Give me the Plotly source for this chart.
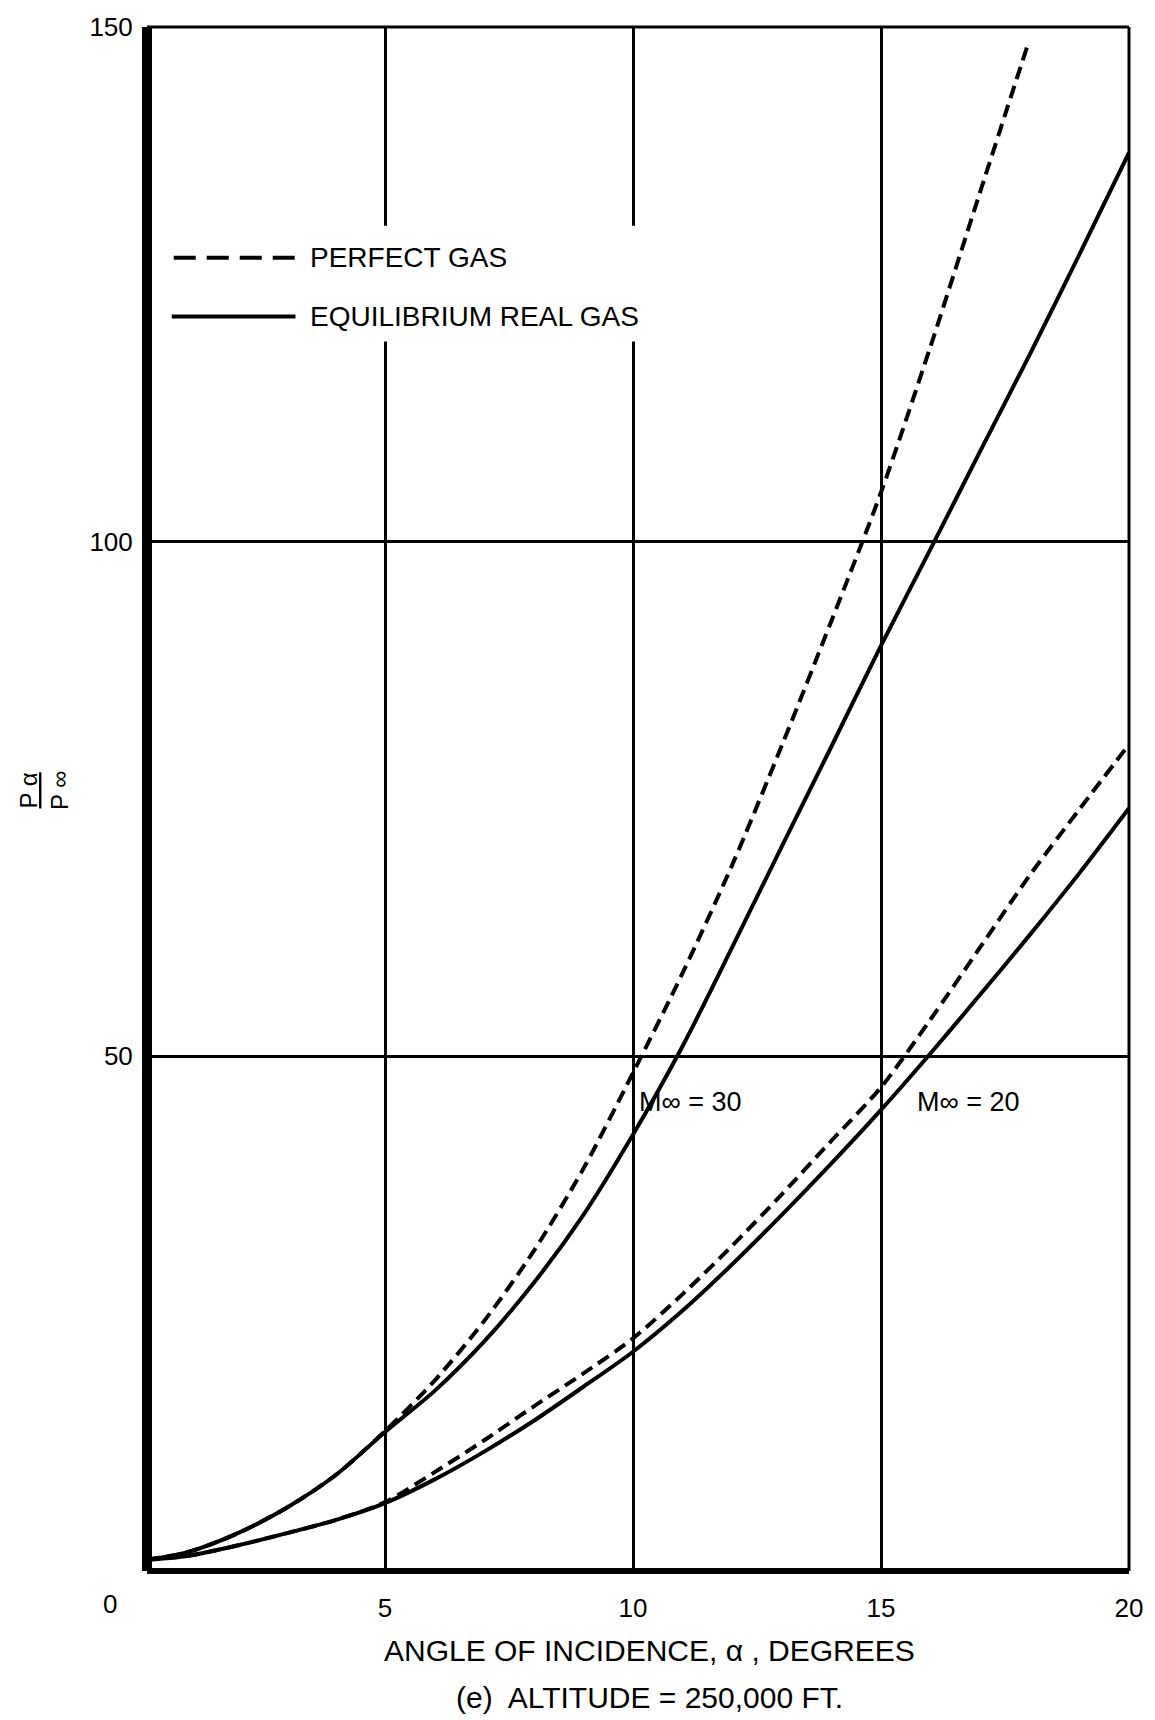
import plotly.graph_objects as go

# ---- data ----
alpha_m30_real = [0.2, 1, 2, 3, 4, 5, 6, 7, 8, 9, 10, 11, 12, 13, 14, 15, 16, 17, 18, 19, 20]
p_m30_real = [1.1, 1.8, 3.6, 6.1, 9.3, 13.5, 17.5, 22.3, 28.0, 34.6, 42.4, 51.0, 60.6, 70.4, 80.1, 89.9, 99.3, 108.8, 118.2, 127.9, 137.8]

alpha_m30_perfect = [0.2, 1, 2, 3, 4, 5, 6, 7, 8, 9, 10, 11, 12, 13, 14, 15, 16, 17, 17.94]
p_m30_perfect = [1.1, 1.8, 3.6, 6.1, 9.3, 13.6, 18.5, 24.3, 31.1, 39.1, 48.4, 58.1, 68.6, 80.2, 92.3, 104.8, 119.0, 134.0, 148.0]

alpha_m20_real = [0.2, 1, 2, 3, 4, 5, 6, 7, 8, 9, 10, 11, 12, 13, 14, 15, 16, 17, 18, 19, 20]
p_m20_real = [1.1, 1.45, 2.45, 3.65, 4.95, 6.6, 8.9, 11.6, 14.6, 17.9, 21.3, 25.3, 29.8, 34.6, 39.6, 44.8, 50.3, 56.0, 61.8, 67.8, 74.1]

alpha_m20_perfect = [0.2, 1, 2, 3, 4, 5, 6, 7, 8, 9, 10, 11, 12, 13, 14, 15, 16, 17, 18, 19, 20]
p_m20_perfect = [1.1, 1.45, 2.45, 3.65, 4.95, 6.7, 9.6, 12.7, 16.0, 19.2, 22.6, 26.9, 31.6, 36.6, 41.8, 47.0, 53.6, 60.6, 67.6, 74.0, 80.3]

x_ticks = [5, 10, 15, 20]
y_ticks = [50, 100, 150]
mach_labels = ["M\u221e = 30", "M\u221e = 20"]
mach_label_x = [10.08, 15.69]
mach_label_y = [45.6, 45.6]

FONT = "Liberation Sans, Arial, sans-serif"
W, H = 1155, 1720
L, R, T, B = 147, 16, 25, 149
pw, ph = W - L - R, H - T - B

def px2paper_x(px):
    return (px - L) / pw

def px2paper_y(py):
    return (H - B - py) / ph

fig = go.Figure()
dash_curve = "13px,7px"
for xs, ys, dash in [
    (alpha_m30_real, p_m30_real, "solid"),
    (alpha_m30_perfect, p_m30_perfect, dash_curve),
    (alpha_m20_real, p_m20_real, "solid"),
    (alpha_m20_perfect, p_m20_perfect, dash_curve),
]:
    fig.add_trace(go.Scatter(x=xs, y=ys, mode="lines",
                             line=dict(color="black", width=4, dash=dash, shape="spline", smoothing=0.8),
                             showlegend=False, hoverinfo="skip"))

for txt, xx, yy in zip(mach_labels, mach_label_x, mach_label_y):
    fig.add_annotation(x=xx, y=yy, xref="x", yref="y", text=txt, showarrow=False,
                       xanchor="left", yanchor="middle", font=dict(family=FONT, size=27, color="black"))

shapes = []
# white patch behind the legend text (gridlines are interrupted there)
shapes.append(dict(type="rect", xref="paper", yref="paper", layer="above",
                   x0=px2paper_x(302), x1=px2paper_x(690), y0=px2paper_y(340), y1=px2paper_y(224),
                   fillcolor="white", line=dict(width=0)))
# frame
shapes.append(dict(type="line", xref="paper", yref="paper", x0=0, x1=0, y0=0, y1=1, line=dict(color="black", width=10)))
shapes.append(dict(type="line", xref="paper", yref="paper", x0=0, x1=1, y0=0, y1=0, line=dict(color="black", width=6)))
shapes.append(dict(type="line", xref="paper", yref="paper", x0=0, x1=1, y0=1, y1=1, line=dict(color="black", width=3)))
shapes.append(dict(type="line", xref="paper", yref="paper", x0=1, x1=1, y0=0, y1=1, line=dict(color="black", width=3)))
# legend keys
shapes.append(dict(type="line", xref="paper", yref="paper", x0=px2paper_x(174), x1=px2paper_x(297),
                   y0=px2paper_y(256), y1=px2paper_y(256), line=dict(color="black", width=4, dash="22px,11px")))
shapes.append(dict(type="line", xref="paper", yref="paper", x0=px2paper_x(172), x1=px2paper_x(297),
                   y0=px2paper_y(315), y1=px2paper_y(315), line=dict(color="black", width=4)))

annotations = [
    dict(xref="paper", yref="paper", x=px2paper_x(310), y=px2paper_y(256), text="PERFECT GAS", showarrow=False,
         xanchor="left", yanchor="middle", font=dict(family=FONT, size=28, color="black")),
    dict(xref="paper", yref="paper", x=px2paper_x(310), y=px2paper_y(315), text="EQUILIBRIUM REAL GAS", showarrow=False,
         xanchor="left", yanchor="middle", font=dict(family=FONT, size=28, color="black")),
    dict(xref="paper", yref="paper", x=px2paper_x(110), y=px2paper_y(1604), text="0", showarrow=False,
         xanchor="center", yanchor="middle", font=dict(family=FONT, size=26, color="black")),
    dict(xref="paper", yref="paper", x=px2paper_x(655), y=px2paper_y(1651), text="ANGLE OF INCIDENCE, \u03b1 , DEGREES",
         showarrow=False, xanchor="center", yanchor="middle", font=dict(family=FONT, size=30, color="black")),
    dict(xref="paper", yref="paper", x=px2paper_x(655), y=px2paper_y(1698), text="(e)  ALTITUDE = 250,000 FT.",
         showarrow=False, xanchor="center", yanchor="middle", font=dict(family=FONT, size=30, color="black")),
    dict(xref="paper", yref="paper", x=px2paper_x(43), y=px2paper_y(790), text="<u>P \u03b1</u><br>P \u221e",
         showarrow=False, textangle=-90, xanchor="center", yanchor="middle",
         font=dict(family=FONT, size=24, color="black")),
]
for a in annotations:
    fig.add_annotation(**a)

fig.update_layout(
    width=W, height=H,
    margin=dict(l=L, r=R, t=T, b=B, pad=0),
    paper_bgcolor="white", plot_bgcolor="white",
    shapes=shapes,
    showlegend=False,
    font=dict(family=FONT, color="black"),
)
fig.update_xaxes(range=[0.2, 20], tickvals=x_ticks, ticktext=[str(v) for v in x_ticks],
                 showgrid=True, gridcolor="black", gridwidth=2.5, zeroline=False, showline=False,
                 ticks="outside", ticklen=14, tickcolor="rgba(0,0,0,0)",
                 tickfont=dict(family=FONT, size=26, color="black"))
fig.update_yaxes(range=[0, 150], tickvals=y_ticks, ticktext=[str(v) for v in y_ticks],
                 showgrid=True, gridcolor="black", gridwidth=2.5, zeroline=False, showline=False,
                 ticks="outside", ticklen=8, tickcolor="rgba(0,0,0,0)",
                 tickfont=dict(family=FONT, size=26, color="black"))

fig.write_html("out.html", config={"displayModeBar": False},
               post_script="document.body.style.margin='0';")
